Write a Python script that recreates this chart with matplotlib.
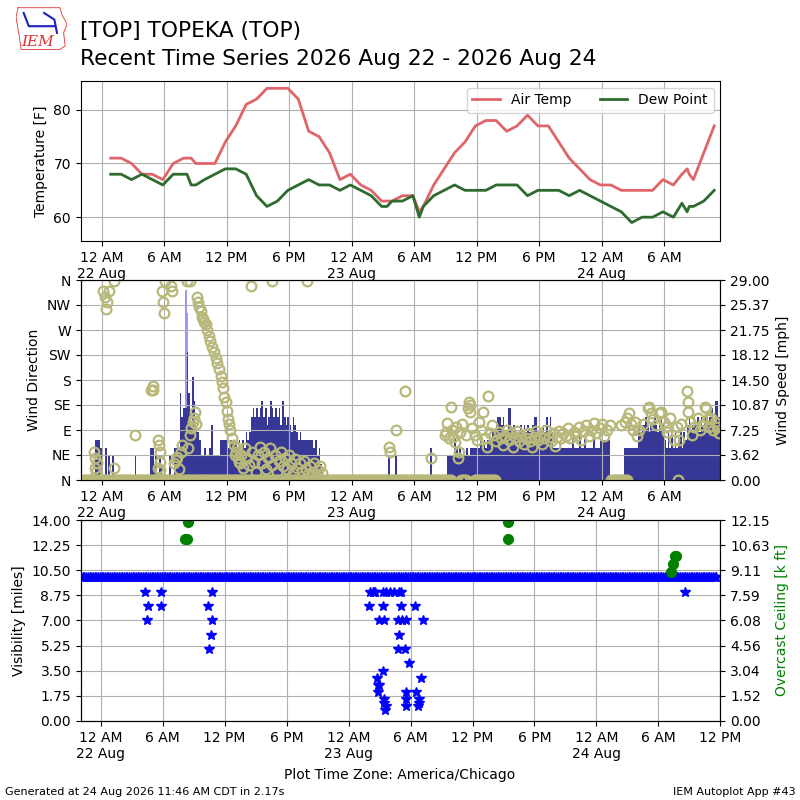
import matplotlib
matplotlib.use("Agg")
import matplotlib.pyplot as plt
import matplotlib.dates as mdates
import matplotlib.ticker as mticker
import pandas as pd
from datetime import datetime, timedelta

BASE = datetime(2026, 8, 22, 0, 0)   # hours below count from 22 Aug 12 AM local

# --- hourly METARs (+ a few specials) ---
obs_hours = [0.88, 1.88, 2.88, 3.88, 4.88, 5.88, 6.88, 7.88, 8.2, 8.6, 9.05,
             9.88, 10.88, 11.88, 12.88, 13.88, 14.88, 15.88, 16.88, 17.88,
             18.88, 19.88, 20.88, 21.88, 22.88, 23.88, 24.88, 25.88, 26.88,
             27.4, 27.88, 28.88, 29.88, 30.5, 30.88, 31.88, 32.88, 33.88,
             34.88, 35.88, 36.88, 37.88, 38.88, 39.88, 40.88, 41.88, 42.88,
             43.88, 44.88, 45.88, 46.88, 47.88, 48.88, 49.88, 50.88, 51.88,
             52.88, 53.88, 54.88, 55.7, 56.2, 56.4, 56.8, 57.8, 58.8]
air_temp = [71, 71, 70, 68, 68, 67, 70, 71, 71, 71, 70,
            70, 70, 74, 77, 81, 82, 84, 84, 84,
            82, 76, 75, 72, 67, 68, 66, 65, 63,
            63, 63, 64, 64, 61, 62, 66, 69, 72,
            74, 77, 78, 78, 76, 77, 79, 77, 77,
            74, 71, 69, 67, 66, 66, 65, 65, 65,
            65, 67, 66, 68, 69, 68, 67, 72, 77]
dew_point = [68, 68, 67, 68, 67, 66, 68, 68, 68, 66, 66,
             67, 68, 69, 69, 68, 64, 62, 63, 65,
             66, 67, 66, 66, 65, 66, 65, 64, 62,
             62, 63, 63, 64, 60, 62, 64, 65, 66,
             65, 65, 65, 66, 66, 66, 64, 65, 65,
             65, 64, 65, 64, 63, 62, 61, 59, 60,
             60, 61, 60, 62.6, 61, 62, 62, 63, 65]

# --- wind speed [mph], 10 minute steps from 21 Aug 10 PM ---
wind_start = "2026-08-21 22:00"
wind_speed = [
    0, 0, 0, 0, 0, 0,
    0, 0, 5.8, 5.8, 5.8, 4.6,
    0, 0, 4.6, 0, 3.6, 0,
    3.6, 0, 0, 0, 0, 0,
    0, 0, 0, 0, 0, 0,
    0, 3.6, 0, 0, 0, 0,
    0, 0, 0, 0, 4.6, 4.6,
    2.3, 3.6, 0, 3.6, 2.3, 0,
    0, 0, 0, 3.6, 0, 0,
    4.6, 4.6, 4.6, 12.6, 9.2, 10.4,
    10.4, 18.6, 12.6, 8.0, 15.0, 11.4,
    8.0, 6.9, 5.8, 3.6, 3.6, 4.6,
    3.6, 3.6, 4.6, 8.0, 3.6, 3.6,
    3.6, 3.6, 5.8, 5.8, 5.8, 5.8,
    5.8, 4.6, 5.8, 5.8, 5.8, 5.8,
    4.6, 5.8, 3.6, 5.8, 4.6, 6.9,
    5.8, 6.9, 9.2, 10.4, 9.2, 10.4,
    9.2, 10.4, 11.4, 9.2, 10.4, 8.0,
    9.2, 11.4, 10.4, 9.2, 10.4, 9.2,
    10.4, 8.0, 11.4, 9.2, 8.0, 9.2,
    8.0, 6.9, 9.2, 8.0, 6.9, 5.8,
    6.9, 5.8, 5.8, 5.8, 5.8, 5.8,
    5.8, 5.8, 4.6, 5.8, 3.5, 4.6,
    2.3, 0, 0, 0, 0, 0,
    0, 0, 0, 0, 0, 0,
    0, 0, 0, 0, 0, 0,
    0, 0, 0, 0, 0, 0,
    0, 0, 0, 0, 0, 0,
    0, 0, 0, 0, 0, 0,
    0, 0, 0, 3.6, 0, 0,
    0, 3.6, 0, 0, 0, 0,
    0, 0, 0, 0, 0, 0,
    0, 0, 0, 0, 0, 0,
    0, 0, 0, 4.6, 0, 0,
    0, 0, 0, 0, 0, 0,
    0, 3.6, 3.6, 3.6, 3.6, 6.0,
    4.6, 3.6, 4.6, 3.6, 4.6, 3.6,
    4.6, 3.6, 4.6, 4.6, 4.6, 4.6,
    5.8, 4.6, 5.8, 4.6, 5.8, 4.6,
    5.8, 6.0, 4.6, 6.9, 6.9, 8.0,
    9.2, 9.2, 8.0, 9.2, 6.9, 6.9,
    10.4, 10.4, 6.9, 8.0, 6.9, 6.9,
    6.9, 8.0, 6.9, 8.0, 6.9, 8.0,
    6.9, 6.9, 8.0, 9.2, 9.2, 6.9,
    6.9, 6.9, 8.0, 6.9, 9.2, 6.9,
    9.2, 6.9, 4.6, 4.6, 4.6, 4.6,
    4.6, 4.6, 4.6, 4.6, 4.6, 4.6,
    4.6, 6.5, 4.6, 4.6, 4.6, 6.5,
    4.6, 4.6, 6.5, 4.6, 4.6, 4.6,
    4.6, 6.5, 4.6, 4.6, 4.6, 5.8,
    5.8, 5.8, 5.8, 5.8, 5.8, 0,
    0, 0, 0, 0, 0, 0,
    0, 4.6, 4.6, 4.6, 4.6, 4.6,
    4.6, 4.6, 4.6, 8.0, 6.9, 8.0,
    8.0, 9.2, 8.0, 6.9, 8.0, 8.0,
    9.2, 8.0, 6.9, 8.0, 9.2, 8.0,
    5.8, 4.6, 6.9, 4.6, 6.9, 4.6,
    6.9, 4.6, 5.8, 6.9, 4.6, 6.9,
    5.8, 8.0, 9.2, 6.9, 8.0, 9.2,
    8.0, 9.2, 6.9, 9.2, 8.0, 9.2,
    9.2, 8.0, 9.2, 10.4, 8.0, 11.4,
    11.4, 9.2,
]
gust_hours = [8.0, 8.17]
gust_mph = [27.5, 24.2]

# --- wind direction [deg] ---
dir_hours = [-0.77, -0.65, -0.6, -0.5, -0.45, 0.13, 0.3, 0.45, 0.51, 0.67,
             1.15, 1.15, 3.17, 4.77, 4.9, 4.93, 5.4, 5.5, 5.57, 5.6, 5.65,
             5.45, 5.8, 5.9, 5.95, 6.1, 6.7, 6.8, 7.0, 7.1, 7.2, 7.4, 7.6,
             7.7, 8.2, 8.5, 8.3, 8.45, 8.6, 8.75, 8.85, 8.95, 9.05,
             9.2, 9.3, 9.35, 9.5, 9.6, 9.75, 9.85, 10.0, 10.1, 10.3, 10.45,
             10.6, 10.8, 11.0, 11.1, 11.3, 11.45, 11.55, 11.65, 11.8, 11.9,
             12.0, 12.1, 12.2, 12.35, 12.55, 12.7, 12.9, 13.1, 13.3,
             12.8, 13.0, 13.2, 13.4, 13.6, 13.8, 14.0, 14.2, 14.4, 14.6,
             14.8, 15.0, 15.2, 15.4, 15.6, 15.8, 16.0, 16.2, 16.4, 16.6,
             16.8, 17.0, 17.2, 17.4, 17.6, 17.8, 18.0, 18.2, 18.4, 18.6,
             18.8, 19.0, 19.2, 19.4, 19.6, 19.8, 20.0, 20.2, 20.4, 20.6,
             20.8, 21.0, 21.2, 14.3, 16.35, 19.7,
             27.6, 27.7, 28.3, 29.1, 31.6,
             33.0, 33.1, 33.2, 33.3, 33.5, 33.6, 33.7, 33.9, 34.0, 34.2,
             34.3, 34.4, 34.6, 35.0, 35.2, 35.3, 35.35, 35.4, 35.6, 35.8,
             36.0, 36.2, 36.4, 36.6, 36.8, 37.0, 37.1, 37.3, 37.5, 37.7,
             37.9, 38.1, 38.3, 38.5, 38.7, 38.9, 39.1, 39.3, 39.5, 39.7,
             39.9, 40.1, 40.3, 40.5, 40.7, 40.9, 41.1, 41.3, 41.5, 41.7,
             41.9, 42.1, 42.3, 42.5, 42.7, 42.9, 43.1, 43.3, 43.5, 43.7,
             43.9, 44.1, 44.3, 44.6, 44.8, 45.0, 45.3, 45.5, 45.8, 46.0,
             46.3, 46.5, 46.8, 47.0, 47.3, 47.5, 47.8, 48.0, 48.2, 48.5,
             48.8, 49.9, 50.2, 50.4, 50.6, 50.8, 51.0, 51.2, 51.4, 51.6,
             52.0, 52.4, 52.5, 52.7, 52.9, 53.2, 53.5, 53.7, 54.0, 54.2,
             54.3, 54.6, 54.9, 55.2, 55.4, 55.6, 56.2, 56.25, 56.3, 56.5,
             56.7, 56.9, 57.2, 57.4, 57.6, 57.9, 58.0, 58.2, 58.3, 58.5,
             58.7, 58.9, 59.1, 59.3]
dir_deg = [51, 39, 22, 15, 30, 341, 330, 308, 320, 341,
           359, 21, 81, 162, 170, 162, 72, 63, 51, 33, 18,
           21, 341, 320, 301, 359, 350, 341, 30, 36, 42, 20, 50,
           63, 359, 359, 57, 81, 93, 105, 111, 123, 100,
           330, 320, 311, 305, 293, 290, 285, 280, 270, 260, 250,
           240, 230, 220, 210, 200, 188, 177, 165, 150, 140,
           125, 110, 100, 90, 75, 63, 50, 40, 30,
           45, 57, 33, 45, 21, 57, 40, 27, 50, 33,
           15, 45, 60, 30, 50, 20, 40, 57, 27, 45,
           15, 35, 50, 25, 40, 20, 45, 30, 12, 38,
           22, 30, 15, 35, 20, 10, 25, 15, 30, 8,
           18, 25, 12, 350, 359, 359,
           60, 51, 90, 160, 40,
           81, 87, 102, 75, 132, 90, 78, 69, 95, 40,
           51, 87, 100, 81, 129, 141, 135, 123, 93, 81,
           72, 105, 90, 123, 75, 60, 151, 85, 99, 81,
           70, 87, 75, 63, 80, 90, 72, 85, 60, 78,
           88, 70, 80, 65, 75, 85, 70, 60, 78, 88,
           72, 80, 65, 75, 90, 78, 70, 85, 62, 78,
           88, 75, 85, 80, 93, 75, 87, 80, 95, 72,
           88, 99, 80, 90, 102, 85, 93, 100, 80, 90,
           99, 99, 105, 111, 120, 100, 90, 105, 80, 90,
           100, 129, 132, 120, 110, 99, 120, 123, 105, 95,
           87, 111, 72, 95, 72, 100, 160, 141, 123, 105,
           81, 95, 111, 90, 99, 132, 129, 110, 96, 111,
           90, 105, 96, 85]
# spans (hours) with calm / 0 deg reports
calm_spans = [(-2.0, 33.5), (34.5, 35.1), (35.8, 37.8), (48.9, 50.5), (55.35, 55.5)]

# --- visibility [miles] ---
vis_10mi_span = (-1.9, 59.6)
low_vis_hours = [4.32, 4.55, 4.45, 5.84, 5.9, 10.75, 10.36, 10.75, 10.65, 10.46,
                 26.09, 26.35, 26.51, 26.6, 27.32, 27.64, 28.03, 28.45, 28.87,
                 29.09, 26.03, 27.32, 29.09, 30.39, 26.99, 27.48, 28.77, 29.19,
                 29.58, 31.2, 28.87, 28.8, 29.5, 29.84, 27.38, 26.73, 31.03,
                 26.83, 26.99, 26.83, 29.58, 30.49, 27.48, 29.58, 30.87, 27.48,
                 30.87, 27.64, 29.58, 30.71, 27.56, 56.6]
low_vis_miles = [9, 8, 7, 9, 8, 9, 8, 7, 6, 5,
                 9, 9, 9, 9, 9, 9, 9, 9, 9,
                 9, 8, 8, 8, 8, 7, 7, 7, 7,
                 7, 7, 6, 5, 5, 4, 3.5, 3, 3,
                 2.5, 2.5, 2, 2, 2, 1.5, 1.5, 1.5, 1.25,
                 1.25, 1, 1, 1, 0.75, 9]

# --- overcast ceiling [k ft] ---
ceil_hours = [8.2, 8.4, 8.45, 39.4, 39.4, 55.2, 55.4, 55.55, 55.65]
ceil_kft = [11.0, 11.0, 12.0, 11.0, 12.0, 9.0, 9.5, 10.0, 10.0]

dir_ticks = [0, 45, 90, 135, 180, 225, 270, 315, 360]
dir_labels = ["N", "NE", "E", "SE", "S", "SW", "W", "NW", "N"]
speed_ticks = [0, 3.625, 7.25, 10.875, 14.5, 18.125, 21.75, 25.375, 29.0]
speed_labels = ["0.00", "3.62", "7.25", "10.87", "14.50", "18.12", "21.75", "25.37", "29.00"]
vis_ticks = [0, 1.75, 3.5, 5.25, 7.0, 8.75, 10.5, 12.25, 14.0]
ceil_ticks = [0, 1.51875, 3.0375, 4.55625, 6.075, 7.59375, 9.1125, 10.63125, 12.15]
ceil_labels = ["0.00", "1.52", "3.04", "4.56", "6.08", "7.59", "9.11", "10.63", "12.15"]


def t(h):
    return BASE + timedelta(hours=h)


def date_fmt(x, pos=None):
    d = mdates.num2date(x)
    s = d.strftime("%I %p").lstrip("0")
    if d.hour == 0:
        s += "\n" + d.strftime("%d %b")
    return s


def time_axis(ax, h0, h1):
    ax.set_xlim(t(h0), t(h1))
    ax.xaxis.set_major_locator(mdates.HourLocator(byhour=[0, 6, 12, 18]))
    ax.xaxis.set_major_formatter(mticker.FuncFormatter(date_fmt))
    ax.grid(True)


fig = plt.figure(figsize=(8, 8), dpi=100)

# ---- temperature ----
ax1 = fig.add_axes([0.101, 0.699, 0.7996, 0.2])
ot = [t(h) for h in obs_hours]
ax1.plot(ot, air_temp, color="#df6569", lw=2, label="Air Temp")
ax1.plot(ot, dew_point, color="#2e6b2e", lw=2, label="Dew Point")
ax1.set_ylim(55.6, 85.4)
ax1.set_yticks([60, 70, 80])
ax1.set_ylabel("Temperature [F]")
time_axis(ax1, -1.99, 59.4)
ax1.legend(loc="upper right", ncol=2)

# ---- wind ----
ax2 = fig.add_axes([0.101, 0.4, 0.7996, 0.25])
ax2b = ax2.twinx()
wt = pd.date_range(wind_start, periods=len(wind_speed), freq="10min")
ax2b.bar([t(h) for h in gust_hours], gust_mph, width=10 / 1440., align="edge",
         color="#9a9af5", linewidth=0)
ax2b.bar(wt, wind_speed, width=10 / 1440., align="edge", color="#373797", linewidth=0)
ax2b.set_ylim(0, 29)
ax2b.set_yticks(speed_ticks)
ax2b.set_yticklabels(speed_labels)
ax2b.set_ylabel("Wind Speed [mph]")

ring = dict(linestyle="none", marker="o", mfc="none", mec="#b8b87a", ms=7, mew=1.6)
for a, b in calm_spans:
    ct = pd.date_range(t(a), t(b), freq="10min")
    ax2.plot(ct, [0] * len(ct), **ring)
ax2.plot([t(h) for h in dir_hours], dir_deg, **ring)
ax2.set_ylim(0, 360)
ax2.set_yticks(dir_ticks)
ax2.set_yticklabels(dir_labels)
ax2.set_ylabel("Wind Direction")
ax2.set_zorder(ax2b.get_zorder() + 1)
ax2.patch.set_visible(False)
time_axis(ax2, -1.99, 59.4)
ax2b.set_xlim(ax2.get_xlim())

# ---- visibility / ceiling ----
ax3 = fig.add_axes([0.101, 0.099, 0.7996, 0.251])
ax3b = ax3.twinx()
bt = pd.date_range(t(vis_10mi_span[0]), t(vis_10mi_span[1]), freq="10min")
ax3.plot(bt, [10] * len(bt), linestyle="none", marker="*", color="b", ms=7)
ax3.plot([t(h) for h in low_vis_hours], low_vis_miles, linestyle="none",
         marker="*", color="b", ms=7)
ax3.set_ylim(0, 14)
ax3.set_yticks(vis_ticks)
ax3.yaxis.set_major_formatter(mticker.FormatStrFormatter("%.2f"))
ax3.set_ylabel("Visibility [miles]")
time_axis(ax3, -1.91, 60.0)

ax3b.plot([t(h) for h in ceil_hours], ceil_kft, linestyle="none", marker="o",
          color="green", ms=7)
ax3b.set_ylim(0, 12.15)
ax3b.set_yticks(ceil_ticks)
ax3b.set_yticklabels(ceil_labels)
ax3b.set_ylabel("Overcast Ceiling [k ft]", color="green")
ax3b.set_xlim(ax3.get_xlim())

# ---- texts ----
fig.text(0.1, 1 - 37 / 800., "[TOP] TOPEKA (TOP)", fontsize=15.7)
fig.text(0.1, 1 - 65 / 800., "Recent Time Series 2026 Aug 22 - 2026 Aug 24", fontsize=15.7)
fig.text(0.5, 1 - 779 / 800., "Plot Time Zone: America/Chicago", ha="center", fontsize=10)
fig.text(0.006, 0.006, "Generated at 24 Aug 2026 11:46 AM CDT in 2.17s", fontsize=8)
fig.text(0.994, 0.006, "IEM Autoplot App #43", fontsize=8, ha="right")

# rough IEM logo
lg = fig.add_axes([0.02, 0.937, 0.064, 0.055])
lg.set_xlim(0, 1)
lg.set_ylim(0, 1)
lg.axis("off")
lg.plot([0.04, 0.86, 0.9, 1.0, 0.93, 0.96, 0.85, 0.1, 0.06, 0.0, 0.04],
        [0.97, 0.97, 0.8, 0.6, 0.4, 0.1, 0.02, 0.02, 0.35, 0.75, 0.97],
        color="#e03030", lw=0.6)
lg.plot([0.15, 0.25, 0.75], [0.85, 0.55, 0.55], color="#2020c0", lw=1.5)
lg.plot([0.55, 0.75, 0.8], [0.85, 0.7, 0.4], color="#2020c0", lw=1.5)
lg.text(0.42, 0.1, "IEM", color="#e03030", fontsize=11, style="italic",
        family="DejaVu Serif", ha="center")

fig.savefig("out.png", dpi=100)
